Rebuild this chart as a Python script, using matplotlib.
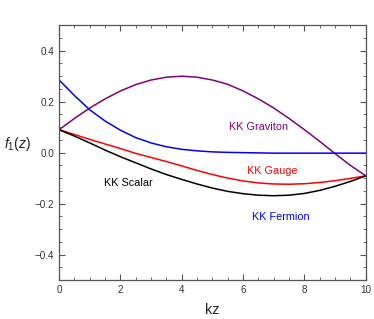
import matplotlib
matplotlib.use('Agg')
import matplotlib.pyplot as plt
from matplotlib.ticker import MultipleLocator

plt.rcParams['font.family'] = ['Liberation Sans', 'DejaVu Sans']
plt.rcParams['mathtext.fontset'] = 'custom'
plt.rcParams['mathtext.rm'] = 'Liberation Sans'
plt.rcParams['mathtext.it'] = 'Liberation Sans:italic'

# kz sample points and curve values
kz = [0, 0.5, 1, 1.5, 2, 2.5, 3, 3.5, 4, 4.5, 5,
      5.5, 6, 6.5, 7, 7.5, 8, 8.5, 9, 9.5, 10]

graviton = [0.090, 0.134, 0.175, 0.211, 0.242, 0.267, 0.285, 0.296, 0.300, 0.296, 0.285,
            0.268, 0.242, 0.211, 0.175, 0.134, 0.090, 0.044, -0.004, -0.050, -0.091]
fermion = [0.285, 0.224, 0.168, 0.124, 0.088, 0.059, 0.038, 0.023, 0.013, 0.007, 0.003,
           0.001, 0.000, -0.001, -0.002, -0.002, -0.002, -0.002, -0.002, -0.002, -0.002]
gauge = [0.090, 0.071, 0.052, 0.034, 0.016, -0.003, -0.019, -0.035, -0.052, -0.070, -0.086,
         -0.100, -0.111, -0.119, -0.123, -0.124, -0.122, -0.117, -0.110, -0.101, -0.091]
scalar = [0.090, 0.065, 0.038, 0.010, -0.016, -0.040, -0.064, -0.086, -0.105, -0.123, -0.139,
          -0.152, -0.161, -0.167, -0.169, -0.167, -0.160, -0.148, -0.132, -0.113, -0.091]

frame_col = '#555555'

fig = plt.figure(figsize=(3.74, 3.19), dpi=100)
ax = fig.add_axes([0.158, 0.122, 0.820, 0.799])

ax.plot(kz, graviton, color='#800080', lw=1.1)
ax.plot(kz, fermion, color='#0000ff', lw=1.1)
ax.plot(kz, gauge, color='#ff0000', lw=1.1)
ax.plot(kz, scalar, color='black', lw=1.1)

ax.text(6.49, 0.10, 'KK Graviton', color='#800080', fontsize=7.8, ha='center', va='center')
ax.text(6.95, -0.072, 'KK Gauge', color='#ff0000', fontsize=7.8, ha='center', va='center')
ax.text(7.24, -0.252, 'KK Fermion', color='#0000ff', fontsize=7.8, ha='center', va='center')
ax.text(2.25, -0.121, 'KK Scalar', color='black', fontsize=7.8, ha='center', va='center')

ax.set_xlim(0, 10)
ax.set_ylim(-0.5, 0.5)
ax.xaxis.set_major_locator(MultipleLocator(2))
ax.xaxis.set_minor_locator(MultipleLocator(0.5))
ax.yaxis.set_major_locator(MultipleLocator(0.2))
ax.yaxis.set_minor_locator(MultipleLocator(0.05))
ax.yaxis.set_major_formatter(plt.FuncFormatter(lambda v, p: ('%.1f' % v).replace('-', '\u2212')))

ax.tick_params(which='both', direction='in', top=True, right=True,
               color=frame_col, labelcolor='#333333', labelsize=7.1)
ax.tick_params(which='major', length=4, width=0.8)
ax.tick_params(which='minor', length=2.2, width=0.6)
for s in ax.spines.values():
    s.set_color(frame_col)
    s.set_linewidth(0.9)

ax.set_xlabel('kz', fontsize=10.3, color='#222222', labelpad=6)
ax.set_ylabel(r'$f_1(z)$', fontsize=10, rotation=0, color='#222222')
ax.yaxis.set_label_coords(-0.135, 0.5)

fig.savefig('out.png', dpi=100)
